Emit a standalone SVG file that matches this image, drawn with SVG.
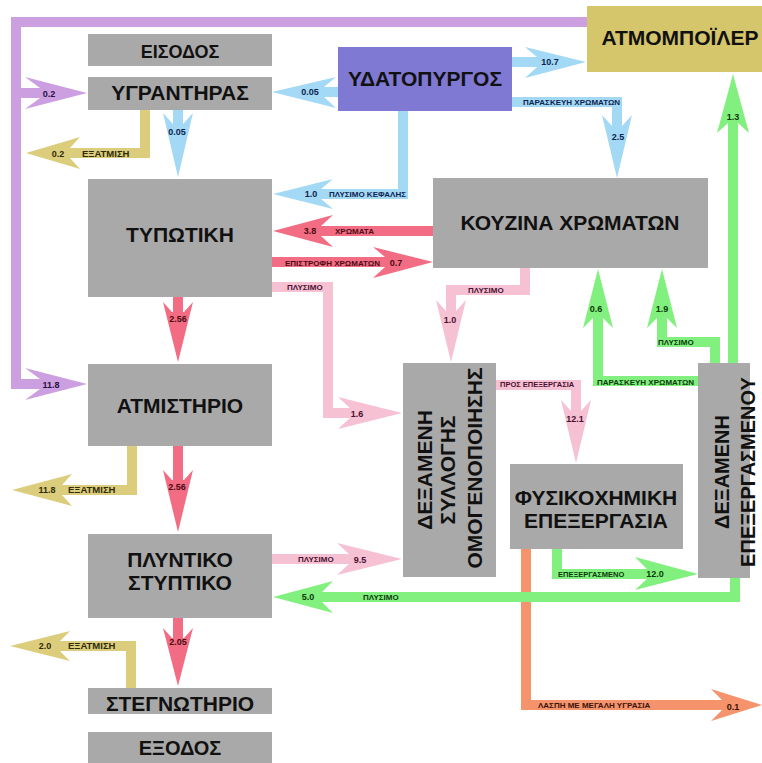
<svg xmlns="http://www.w3.org/2000/svg" width="762" height="763" viewBox="0 0 762 763">
<style>
.box{fill:#a9a9a9}
.t{font-family:"Liberation Sans",Arial,sans-serif;font-weight:bold;font-size:21px;fill:#111;text-anchor:middle}
.n{font-family:"Liberation Sans",Arial,sans-serif;font-weight:bold;font-size:9px;text-anchor:middle}
.s{font-family:"Liberation Sans",Arial,sans-serif;font-weight:bold;font-size:8px}
.e{font-family:"Liberation Sans",Arial,sans-serif;font-weight:bold;font-size:9.5px}
.sh{fill:none;stroke-width:10;stroke-linejoin:miter}
.pu .sh{stroke:#cb9fe0}.pu polygon{fill:#cb9fe0}.pu text{fill:#2a1040}
.bl .sh{stroke:#a3d9f5}.bl polygon{fill:#a3d9f5}.bl text{fill:#0d2350}
.rd .sh{stroke:#f26d83}.rd polygon{fill:#f26d83}.rd text{fill:#4a0a14}
.kh .sh{stroke:#dccd7c}.kh polygon{fill:#dccd7c}.kh text{fill:#2e2a0a}
.pk .sh{stroke:#f5c1d3}.pk polygon{fill:#f5c1d3}.pk text{fill:#4a1030}
.gr .sh{stroke:#82f07e}.gr polygon{fill:#82f07e}.gr text{fill:#0b3a0b}
.or .sh{stroke:#f5936d}.or polygon{fill:#f5936d}.or text{fill:#3a1208}
</style>
<rect width="762" height="763" fill="#ffffff"/>
<g id="connectors">
 <g class="pu">
  <path class="sh" d="M587,22 H16 V384 H40 M16,93 H40"/>
  <polygon points="40,88 25,77 87,93 25,109 40,98"/>
  <polygon points="40,379 25,368 87,384 25,400 40,389"/>
  <text class="n" x="49" y="97">0.2</text>
  <text class="n" x="51" y="388">11.8</text>
 </g>
 <g class="bl">
  <path class="sh" d="M338,92 H324"/>
  <polygon points="324,87 336,77 272,92 336,108 324,97"/>
  <text class="n" x="310" y="95">0.05</text>
  <path class="sh" d="M178,110 V124"/>
  <polygon points="173,124 163,113 178,177 193,113 183,124"/>
  <text class="n" x="177" y="135">0.05</text>
  <path class="sh" d="M403,111 V194 H321"/>
  <polygon points="321,189 333,179 273,194 333,209 321,199"/>
  <text class="n" x="311" y="197">1.0</text>
  <text class="s" x="329" y="197">ΠΛΥΣΙΜΟ ΚΕΦΑΛΗΣ</text>
  <path class="sh" d="M512,62 H537"/>
  <polygon points="537,57 525,47 586,62 525,78 537,67"/>
  <text class="n" x="550" y="65">10.7</text>
  <path class="sh" d="M512,102 H617 V126"/>
  <polygon points="612,126 602,115 617,178 632,115 622,126"/>
  <text class="s" x="523" y="105">ΠΑΡΑΣΚΕΥΗ ΧΡΩΜΑΤΩΝ</text>
  <text class="n" x="618" y="140">2.5</text>
 </g>
 <g class="rd">
  <path class="sh" d="M433,231 H321"/>
  <polygon points="321,226 333,215 273,231 333,247 321,236"/>
  <text class="n" x="310" y="234">3.8</text>
  <text class="s" x="335" y="234">ΧΡΩΜΑΤΑ</text>
  <path class="sh" d="M272,262 H385"/>
  <polygon points="385,257 373,247 433,262 373,278 385,267"/>
  <text class="s" x="285" y="266">ΕΠΙΣΤΡΟΦΗ ΧΡΩΜΑΤΩΝ</text>
  <text class="n" x="396" y="266">0.7</text>
  <path class="sh" d="M178,297 V312"/>
  <polygon points="172,312 163,302 178,362 193,302 184,312"/>
  <text class="n" x="178" y="322">2.56</text>
  <path class="sh" d="M178,446 V480"/>
  <polygon points="172,480 163,470 178,532 193,470 184,480"/>
  <text class="n" x="177" y="490">2.56</text>
  <path class="sh" d="M178,618 V638"/>
  <polygon points="172,638 163,628 178,686 193,628 184,638"/>
  <text class="n" x="178" y="645">2.05</text>
 </g>
 <g class="kh">
  <path class="sh" d="M145,110 V153 H70"/>
  <polygon points="70,148 80,137 26,153 80,169 70,158"/>
  <text class="n" x="58" y="157">0.2</text>
  <text class="e" x="82" y="157">ΕΞΑΤΜΙΣΗ</text>
  <path class="sh" d="M132,446 V490 H62"/>
  <polygon points="62,485 72,474 12,490 72,506 62,495"/>
  <text class="n" x="47" y="493">11.8</text>
  <text class="e" x="68" y="493">ΕΞΑΤΜΙΣΗ</text>
  <path class="sh" d="M131,688 V646 H60"/>
  <polygon points="60,641 70,631 10,646 70,661 60,651"/>
  <text class="n" x="45" y="649">2.0</text>
  <text class="e" x="68" y="649">ΕΞΑΤΜΙΣΗ</text>
 </g>
 <g class="pk">
  <path class="sh" d="M272,287 H328 V413 H350"/>
  <polygon points="350,408 338,397 402,413 338,429 350,418"/>
  <text class="s" x="287" y="290">ΠΛΥΣΙΜΟ</text>
  <text class="n" x="357" y="417">1.6</text>
  <path class="sh" d="M525,268 V290 H451 V311"/>
  <polygon points="446,311 436,300 451,362 466,300 456,311"/>
  <text class="s" x="468" y="293">ΠΛΥΣΙΜΟ</text>
  <text class="n" x="450" y="323">1.0</text>
  <path class="sh" d="M496,385 H576 V411"/>
  <polygon points="571,411 561,400 576,463 591,400 581,411"/>
  <text class="s" x="500" y="387" style="font-size:7.5px">ΠΡΟΣ ΕΠΕΞΕΡΓΑΣΙΑ</text>
  <text class="n" x="575" y="422">12.1</text>
  <path class="sh" d="M272,559 H349"/>
  <polygon points="349,554 337,543 402,559 337,575 349,564"/>
  <text class="s" x="298" y="562">ΠΛΥΣΙΜΟ</text>
  <text class="n" x="360" y="563">9.5</text>
 </g>
 <g class="or">
  <path class="sh" d="M526,549 V705 H722"/>
  <polygon points="722,700 711,689 762,705 711,721 722,710"/>
  <text class="s" x="538" y="708">ΛΑΣΠΗ ΜΕ ΜΕΓΑΛΗ ΥΓΡΑΣΙΑ</text>
  <text class="n" x="733" y="710">0.1</text>
 </g>
 <g class="gr">
  <path class="sh" d="M557,549 V574 H647"/>
  <polygon points="647,569 635,557 698,574 635,590 647,579"/>
  <text class="s" x="558" y="577" style="font-size:7.5px">ΕΠΕΞΕΡΓΑΣΜΕΝΟ</text>
  <text class="n" x="655" y="577">12.0</text>
  <path class="sh" d="M735,578 V597 H322"/>
  <polygon points="322,592 333,581 273,597 333,613 322,602"/>
  <text class="n" x="308" y="600">5.0</text>
  <text class="s" x="363" y="600">ΠΛΥΣΙΜΟ</text>
  <path class="sh" d="M733,363 V123"/>
  <polygon points="728,123 717,133 733,74 749,133 738,123"/>
  <text class="n" x="733" y="120">1.3</text>
  <path class="sh" d="M715,363 V342 H662 V318"/>
  <polygon points="657,318 647,328 662,269 677,328 667,318"/>
  <text class="n" x="662" y="312">1.9</text>
  <text class="s" x="658" y="345">ΠΛΥΣΙΜΟ</text>
  <path class="sh" d="M698,381 H598 V318"/>
  <polygon points="593,318 583,328 598,269 613,328 603,318"/>
  <text class="n" x="596" y="312">0.6</text>
  <text class="s" x="597" y="385">ΠΑΡΑΣΚΕΥΗ ΧΡΩΜΑΤΩΝ</text>
 </g>
</g>
<g id="eisodos"><rect class="box" x="88" y="34" width="184" height="32"/><text class="t" x="180" y="58" style="font-size:18px">ΕΙΣΟΔΟΣ</text></g>
<g id="ygrantiras"><rect class="box" x="88" y="77" width="184" height="33"/><text class="t" x="180" y="100">ΥΓΡΑΝΤΗΡΑΣ</text></g>
<g id="ydatopyrgos"><rect x="338" y="47" width="174" height="64" fill="#7f79d3"/><text class="t" x="425" y="86">ΥΔΑΤΟΠΥΡΓΟΣ</text></g>
<g id="atmompoiler"><rect x="587" y="6" width="175" height="66" fill="#d5c56b"/><text class="t" x="680" y="45">ΑΤΜΟΜΠΟΪΛΕΡ</text></g>
<g id="typotiki"><rect class="box" x="88" y="179" width="184" height="118"/><text class="t" x="180" y="242">ΤΥΠΩΤΙΚΗ</text></g>
<g id="kouzina"><rect class="box" x="433" y="178" width="275" height="90"/><text class="t" x="570" y="230">ΚΟΥΖΙΝΑ ΧΡΩΜΑΤΩΝ</text></g>
<g id="atmistirio"><rect class="box" x="88" y="364" width="184" height="82"/><text class="t" x="180" y="413">ΑΤΜΙΣΤΗΡΙΟ</text></g>
<g id="plyntiko"><rect class="box" x="88" y="534" width="184" height="84"/><text class="t" x="180" y="567">ΠΛΥΝΤΙΚΟ</text><text class="t" x="180" y="590">ΣΤΥΠΤΙΚΟ</text></g>
<g id="stegnotirio"><rect class="box" x="88" y="688" width="184" height="26"/><text class="t" x="180" y="711">ΣΤΕΓΝΩΤΗΡΙΟ</text></g>
<g id="exodos"><rect class="box" x="88" y="732" width="184" height="31"/><text class="t" x="180" y="755" style="font-size:20px">ΕΞΟΔΟΣ</text></g>
<g id="dexameni-syllogis"><rect class="box" x="403" y="363" width="93" height="214"/>
 <text class="t" transform="translate(432,470) rotate(-90)">ΔΕΞΑΜΕΝΗ</text>
 <text class="t" transform="translate(455,470) rotate(-90)">ΣΥΛΛΟΓΗΣ</text>
 <text class="t" transform="translate(482,468) rotate(-90)">ΟΜΟΓΕΝΟΠΟΙΗΣΗΣ</text>
</g>
<g id="fysikoximiki"><rect class="box" x="510" y="464" width="173" height="85"/><text class="t" x="596" y="505">ΦΥΣΙΚΟΧΗΜΙΚΗ</text><text class="t" x="596" y="528">ΕΠΕΞΕΡΓΑΣΙΑ</text></g>
<g id="dexameni-epexergasmenou"><rect class="box" x="698" y="363" width="52" height="215"/>
 <text class="t" transform="translate(729,472) rotate(-90)" style="font-size:20px">ΔΕΞΑΜΕΝΗ</text>
 <text class="t" transform="translate(755,472) rotate(-90)" style="font-size:20px">ΕΠΕΞΕΡΓΑΣΜΕΝΟΥ</text>
</g>
</svg>
